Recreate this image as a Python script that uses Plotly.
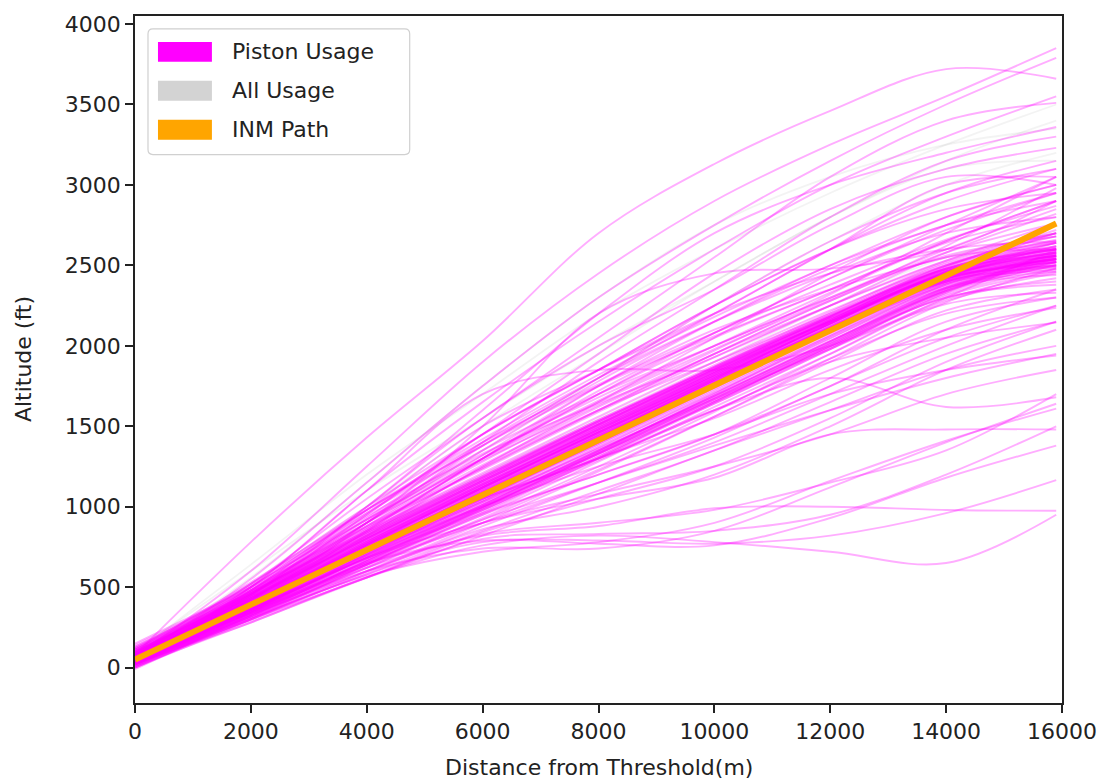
import plotly.graph_objects as go

# Sample distances (m) at which each track's altitude was read
distance_m = [0, 2000, 4000, 6000, 8000, 10000, 12000, 14000, 15900]

# Piston tracks close to the INM path (ft)
piston_core = [
    [100, 450, 820, 1170, 1520, 1860, 2180, 2480, 2620],
    [40, 380, 740, 1080, 1430, 1770, 2100, 2400, 2520],
    [80, 430, 800, 1150, 1500, 1840, 2160, 2430, 2500],
    [20, 360, 720, 1060, 1400, 1740, 2080, 2380, 2480],
    [120, 470, 850, 1210, 1560, 1900, 2220, 2500, 2650],
    [60, 410, 780, 1130, 1480, 1820, 2150, 2460, 2600],
    [0, 340, 700, 1040, 1380, 1720, 2060, 2360, 2440],
    [90, 420, 770, 1110, 1450, 1800, 2140, 2460, 2700],
    [50, 390, 750, 1090, 1440, 1780, 2110, 2410, 2540],
    [140, 490, 870, 1230, 1590, 1930, 2250, 2530, 2700],
    [30, 370, 730, 1070, 1420, 1760, 2090, 2370, 2460],
    [70, 400, 740, 1080, 1430, 1790, 2140, 2450, 2580],
    [110, 440, 790, 1130, 1460, 1800, 2120, 2400, 2500],
    [-10, 330, 690, 1030, 1370, 1710, 2050, 2360, 2520],
    [60, 420, 800, 1160, 1510, 1850, 2170, 2470, 2620],
    [90, 460, 840, 1190, 1530, 1860, 2170, 2440, 2560],
    [40, 370, 720, 1060, 1410, 1760, 2110, 2430, 2590],
    [20, 350, 710, 1070, 1430, 1790, 2140, 2460, 2640],
    [130, 480, 850, 1200, 1540, 1870, 2190, 2480, 2600],
    [50, 400, 770, 1120, 1470, 1820, 2160, 2490, 2720],
    [70, 390, 730, 1060, 1390, 1730, 2070, 2390, 2560],
    [10, 360, 730, 1080, 1430, 1770, 2100, 2390, 2470],
    [100, 460, 830, 1180, 1520, 1850, 2150, 2420, 2520],
    [60, 400, 760, 1110, 1460, 1810, 2140, 2440, 2560],
    [80, 410, 760, 1100, 1440, 1780, 2110, 2400, 2490],
    [30, 390, 770, 1130, 1490, 1840, 2180, 2500, 2680],
    [150, 500, 880, 1240, 1600, 1950, 2280, 2580, 2760],
    [0, 320, 670, 1010, 1350, 1690, 2030, 2340, 2500],
    [40, 400, 780, 1140, 1490, 1830, 2160, 2470, 2610],
    [90, 430, 780, 1120, 1460, 1790, 2110, 2410, 2540],
    [60, 380, 720, 1050, 1390, 1740, 2090, 2420, 2620],
    [110, 470, 840, 1190, 1540, 1880, 2210, 2520, 2680],
    [20, 370, 740, 1100, 1450, 1790, 2120, 2430, 2580],
    [70, 430, 810, 1170, 1510, 1840, 2150, 2430, 2530],
    [50, 380, 730, 1070, 1410, 1750, 2090, 2410, 2560],
    [80, 440, 820, 1180, 1530, 1870, 2200, 2510, 2650],
    [30, 360, 710, 1050, 1400, 1750, 2100, 2430, 2640],
    [100, 440, 800, 1140, 1480, 1820, 2150, 2460, 2600],
    [60, 420, 790, 1140, 1480, 1810, 2130, 2420, 2520],
    [40, 390, 760, 1120, 1470, 1810, 2140, 2450, 2600],
    [70, 410, 770, 1110, 1460, 1800, 2130, 2430, 2550],
    [50, 395, 755, 1095, 1445, 1785, 2115, 2415, 2530],
    [90, 440, 810, 1160, 1510, 1850, 2170, 2460, 2580],
    [30, 370, 730, 1075, 1425, 1770, 2100, 2400, 2500],
    [110, 460, 830, 1180, 1530, 1870, 2190, 2480, 2610],
    [60, 405, 770, 1120, 1470, 1815, 2150, 2455, 2590],
    [80, 420, 780, 1120, 1460, 1795, 2120, 2420, 2540],
    [40, 380, 745, 1095, 1450, 1800, 2140, 2450, 2570],
    [100, 450, 815, 1160, 1500, 1835, 2155, 2445, 2560],
    [20, 355, 715, 1060, 1410, 1760, 2100, 2420, 2560],
    [70, 425, 800, 1155, 1505, 1845, 2175, 2485, 2640],
    [50, 385, 740, 1080, 1420, 1760, 2090, 2390, 2490],
    [90, 430, 790, 1135, 1480, 1820, 2150, 2450, 2560],
    [60, 400, 765, 1115, 1465, 1805, 2135, 2440, 2580],
    [130, 470, 835, 1185, 1530, 1865, 2185, 2470, 2570],
    [10, 345, 705, 1050, 1400, 1745, 2085, 2400, 2540],
    [80, 435, 805, 1160, 1510, 1855, 2185, 2495, 2660],
    [40, 375, 735, 1085, 1435, 1780, 2115, 2420, 2540],
    [70, 415, 785, 1140, 1490, 1830, 2160, 2465, 2600],
    [100, 445, 805, 1150, 1495, 1830, 2150, 2440, 2540],
    [50, 390, 760, 1120, 1480, 1830, 2165, 2480, 2640],
    [60, 395, 750, 1090, 1435, 1775, 2105, 2405, 2520],
    [120, 455, 820, 1170, 1515, 1855, 2180, 2475, 2600],
    [30, 365, 725, 1070, 1420, 1765, 2105, 2425, 2580],
    [30, 340, 670, 1000, 1330, 1670, 2010, 2340, 2520],
    [10, 320, 650, 980, 1310, 1650, 1990, 2320, 2480],
    [40, 350, 690, 1020, 1350, 1690, 2030, 2360, 2540],
    [20, 330, 660, 990, 1320, 1660, 2000, 2330, 2500],
    [50, 360, 690, 1010, 1340, 1680, 2020, 2350, 2560],
    [0, 310, 640, 970, 1300, 1640, 1980, 2310, 2460],
    [30, 345, 680, 1010, 1345, 1685, 2025, 2355, 2530],
    [60, 355, 685, 1015, 1350, 1690, 2030, 2365, 2550],
    [20, 335, 665, 995, 1330, 1670, 2010, 2345, 2510],
    [40, 340, 660, 980, 1310, 1650, 2000, 2340, 2540],
    [10, 325, 660, 995, 1335, 1675, 2015, 2350, 2520],
    [50, 365, 700, 1030, 1365, 1705, 2045, 2380, 2570],
]

# Piston tracks with a wider spread around the path (ft)
piston_wide = [
    [80, 480, 920, 1320, 1680, 2000, 2300, 2600, 2850],
    [50, 350, 650, 950, 1280, 1620, 1950, 2280, 2420],
    [100, 520, 960, 1380, 1750, 2060, 2350, 2650, 2900],
    [30, 330, 630, 920, 1230, 1560, 1900, 2220, 2350],
    [70, 460, 880, 1280, 1650, 1980, 2290, 2620, 2980],
    [60, 340, 640, 960, 1300, 1650, 2000, 2300, 2400],
    [90, 500, 940, 1330, 1640, 1930, 2250, 2580, 2820],
    [20, 300, 600, 900, 1220, 1560, 1920, 2270, 2480],
    [110, 530, 980, 1400, 1760, 2080, 2380, 2660, 2870],
    [40, 360, 680, 980, 1290, 1600, 1920, 2200, 2300],
    [60, 450, 870, 1260, 1620, 1950, 2250, 2530, 2760],
    [80, 370, 680, 1000, 1340, 1700, 2060, 2380, 2550],
    [50, 470, 900, 1290, 1630, 1970, 2320, 2700, 3050],
    [0, 300, 640, 990, 1330, 1660, 1990, 2300, 2380],
    [120, 510, 920, 1300, 1660, 2000, 2330, 2640, 2800],
    [30, 350, 700, 1040, 1360, 1670, 1980, 2260, 2330],
    [70, 480, 900, 1300, 1700, 2080, 2420, 2720, 2950],
    [40, 320, 620, 930, 1250, 1590, 1950, 2290, 2450],
    [90, 460, 860, 1240, 1600, 1950, 2280, 2560, 2680],
    [60, 390, 720, 1030, 1330, 1640, 1980, 2330, 2580],
    [60, 470, 930, 1400, 1800, 2150, 2450, 2700, 2800],
    [40, 450, 900, 1350, 1780, 2150, 2480, 2750, 2900],
    [80, 500, 980, 1420, 1820, 2180, 2500, 2800, 3000],
    [50, 430, 860, 1300, 1720, 2080, 2420, 2750, 3050],
    [70, 480, 960, 1450, 1850, 2200, 2450, 2600, 2650],
    [60, 440, 880, 1320, 1750, 2100, 2350, 2550, 2700],
    [90, 520, 1000, 1450, 1850, 2250, 2600, 2850, 2950],
    [30, 420, 850, 1300, 1700, 2050, 2350, 2650, 2900],
    [60, 460, 900, 1380, 1800, 2250, 2650, 2950, 3100],
    [50, 430, 840, 1250, 1650, 2050, 2450, 2800, 3000],
    [80, 460, 920, 1350, 1700, 2000, 2300, 2550, 2600],
    [40, 400, 820, 1250, 1600, 1900, 2200, 2500, 2700],
    [40, 330, 600, 880, 1150, 1430, 1750, 2050, 2250],
    [30, 310, 580, 850, 1100, 1350, 1650, 1950, 2150],
    [60, 340, 640, 900, 1150, 1400, 1700, 2000, 2250],
    [20, 300, 560, 820, 1080, 1350, 1600, 1850, 2000],
    [50, 350, 650, 950, 1200, 1450, 1750, 2100, 2350],
    [10, 280, 560, 840, 1050, 1250, 1550, 1900, 2150],
    [60, 360, 680, 960, 1200, 1450, 1800, 2150, 2300],
    [40, 300, 590, 860, 1000, 1200, 1500, 1850, 2100],
    [30, 320, 620, 900, 1080, 1250, 1450, 1700, 1850],
    [50, 340, 640, 920, 1150, 1380, 1600, 1800, 1950],
]

# Piston tracks climbing well above the path (ft)
piston_high = [
    [80, 780, 1430, 2030, 2700, 3130, 3460, 3720, 3660],
    [70, 600, 1250, 1900, 2450, 2900, 3250, 3550, 3850],
    [60, 550, 1150, 1750, 2300, 2750, 3150, 3500, 3790],
    [50, 500, 1100, 1650, 2150, 2600, 3000, 3300, 3550],
    [70, 520, 1050, 1550, 2050, 2550, 3050, 3400, 3510],
    [60, 480, 1000, 1600, 2200, 2700, 3000, 3200, 3360],
    [50, 450, 950, 1450, 1950, 2450, 2850, 3100, 3230],
    [40, 480, 980, 1500, 1850, 2200, 2600, 2950, 3150],
    [60, 500, 1100, 1700, 1850, 1850, 2000, 2300, 2600],
    [50, 420, 900, 1500, 2200, 2450, 2480, 2600, 2900],
    [60, 450, 1000, 1550, 2000, 2350, 2750, 3050, 3000],
    [40, 430, 900, 1400, 1900, 2350, 2800, 3150, 3300],
    [50, 460, 950, 1450, 1850, 2250, 2600, 2900, 3100],
    [70, 500, 980, 1380, 1800, 2200, 2600, 3000, 3050],
    [30, 400, 850, 1300, 1750, 2150, 2500, 2750, 2950],
]

# Piston tracks staying well below the path (ft)
piston_low = [
    [30, 280, 560, 760, 820, 780, 720, 650, 950],
    [20, 300, 580, 780, 790, 770, 820, 960, 1165],
    [50, 320, 620, 820, 880, 990, 1000, 980, 975],
    [40, 330, 600, 740, 740, 850, 1120, 1400, 1640],
    [30, 310, 570, 720, 780, 900, 1160, 1410, 1610],
    [40, 350, 650, 790, 770, 760, 930, 1180, 1380],
    [50, 360, 680, 900, 1050, 1180, 1450, 1480, 1480],
    [60, 400, 760, 1050, 1300, 1600, 1800, 1620, 1680],
    [20, 290, 560, 800, 830, 850, 950, 1200, 1500],
    [30, 310, 600, 830, 900, 980, 1150, 1350, 1700],
    [50, 380, 720, 1000, 1250, 1450, 1700, 1850, 1940],
    [40, 390, 740, 1050, 1300, 1600, 1900, 2050, 2144],
    [50, 360, 700, 1000, 1300, 1550, 1850, 2100, 2237],
]

# All-usage tracks (faint grey background, ft)
all_usage = [
    [80, 560, 1150, 1750, 2300, 2750, 3050, 3250, 3350],
    [60, 450, 900, 1350, 1800, 2250, 2650, 3000, 3200],
    [100, 600, 1100, 1550, 2000, 2400, 2800, 3100, 3150],
    [70, 520, 1000, 1500, 1950, 2400, 2800, 3150, 3400],
    [90, 640, 1200, 1700, 2200, 2600, 2950, 3250, 3500],
    [50, 420, 820, 1200, 1550, 1900, 2250, 2550, 2700],
]

# INM reference path
inm_distance = [0, 15900]
inm_altitude = [50, 2760]

x_ticks = [0, 2000, 4000, 6000, 8000, 10000, 12000, 14000, 16000]
y_ticks = [0, 500, 1000, 1500, 2000, 2500, 3000, 3500, 4000]
legend_labels = ["Piston Usage", "All Usage", "INM Path"]
legend_colors = ["#ff00ff", "#d3d3d3", "#ffa500"]

fig = go.Figure()

for track in all_usage:
    fig.add_trace(go.Scatter(x=distance_m, y=track, mode="lines", line_shape="spline",
                             line=dict(color="rgba(160,160,160,0.12)", width=1.8),
                             showlegend=False, hoverinfo="skip"))

for group in (piston_core, piston_wide, piston_high, piston_low):
    for track in group:
        fig.add_trace(go.Scatter(x=distance_m, y=track, mode="lines", line_shape="spline",
                                 line=dict(color="rgba(255,0,255,0.32)", width=1.9),
                                 showlegend=False, hoverinfo="skip"))

fig.add_trace(go.Scatter(x=inm_distance, y=inm_altitude, mode="lines",
                         line=dict(color="#ffa500", width=6),
                         showlegend=False, hoverinfo="skip"))

# Plot area in pixels: x 135..1063, y 14..703
L, R, T, B = 135, 1063, 14, 703
def px(xp):
    return (xp - L) / (R - L)
def py(yp):
    return (B - yp) / (B - T)

shapes = []
x0, x1, y0, y1, r = 148, 410, 27, 153, 5
path = (f"M {px(x0+r)},{py(y0)} L {px(x1-r)},{py(y0)} Q {px(x1)},{py(y0)} {px(x1)},{py(y0+r)} "
        f"L {px(x1)},{py(y1-r)} Q {px(x1)},{py(y1)} {px(x1-r)},{py(y1)} "
        f"L {px(x0+r)},{py(y1)} Q {px(x0)},{py(y1)} {px(x0)},{py(y1-r)} "
        f"L {px(x0)},{py(y0+r)} Q {px(x0)},{py(y0)} {px(x0+r)},{py(y0)} Z")
shapes.append(dict(type="path", xref="paper", yref="paper", path=path,
                   fillcolor="rgba(255,255,255,0.85)", line=dict(color="#d0d0d0", width=1.2)))
annotations = []
patch_tops = [40, 79, 118]
for lbl, col, top in zip(legend_labels, legend_colors, patch_tops):
    shapes.append(dict(type="rect", xref="paper", yref="paper",
                       x0=px(158), x1=px(212), y0=py(top + 20), y1=py(top),
                       fillcolor=col, line=dict(color=col, width=0)))
    annotations.append(dict(xref="paper", yref="paper", x=px(230), y=py(top + 10),
                            text=lbl, showarrow=False, xanchor="left", yanchor="middle",
                            font=dict(family="DejaVu Sans", size=22, color="#222222")))

annotations.append(dict(xref="paper", yref="paper", x=px(599), y=py(768),
                        text="Distance from Threshold(m)", showarrow=False,
                        xanchor="center", yanchor="middle",
                        font=dict(family="DejaVu Sans", size=22, color="#222222")))
annotations.append(dict(xref="paper", yref="paper", x=px(23), y=py(358),
                        text="Altitude (ft)", showarrow=False, textangle=-90,
                        xanchor="center", yanchor="middle",
                        font=dict(family="DejaVu Sans", size=22, color="#222222")))

fig.update_layout(
    width=1109, height=780,
    margin=dict(l=L, r=1109 - R, t=T, b=780 - B),
    paper_bgcolor="white", plot_bgcolor="white",
    showlegend=False, shapes=shapes, annotations=annotations,
    font=dict(family="DejaVu Sans", size=22, color="#222222"),
)
fig.update_xaxes(range=[0, 16000], tickvals=x_ticks, ticktext=[str(v) for v in x_ticks],
                 showgrid=False, zeroline=False, showline=True, mirror=True,
                 linecolor="#222222", linewidth=1.8, ticks="outside", ticklen=8,
                 tickwidth=1.5, tickcolor="#222222",
                 tickfont=dict(family="DejaVu Sans", size=22, color="#222222"))
fig.update_yaxes(range=[-220, 4050], tickvals=y_ticks, ticktext=[str(v) for v in y_ticks],
                 showgrid=False, zeroline=False, showline=True, mirror=True,
                 linecolor="#222222", linewidth=1.8, ticks="outside", ticklen=8,
                 tickwidth=1.5, tickcolor="#222222",
                 tickfont=dict(family="DejaVu Sans", size=22, color="#222222"))

fig.write_html("out.html")
